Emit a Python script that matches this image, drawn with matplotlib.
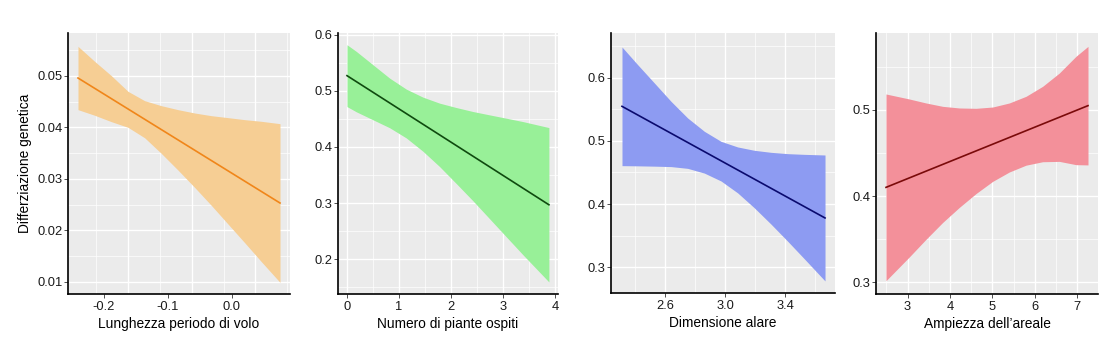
import matplotlib
matplotlib.use("Agg")
import matplotlib.pyplot as plt

plt.rcParams['font.family'] = ['Liberation Sans', 'DejaVu Sans']

W, H = 1106, 359

# ---------------- data ----------------
ylabel = "Differziazione genetica"

# Panel 1: Lunghezza periodo di volo
p1_xlabel = "Lunghezza periodo di volo"
p1_x = [-0.2404, -0.2144, -0.1883, -0.1623, -0.1363, -0.1103, -0.0843,
        -0.0582, -0.0322, -0.0062, 0.0198, 0.0458, 0.0750]
p1_upper = [0.05571, 0.05280, 0.05002, 0.04698, 0.04517, 0.04420, 0.04343,
            0.04278, 0.04226, 0.04188, 0.04149, 0.04117, 0.04071]
p1_lower = [0.04343, 0.04234, 0.04110, 0.04000, 0.03797, 0.03494, 0.03171,
            0.02834, 0.02486, 0.02124, 0.01763, 0.01395, 0.00993]
p1_line_x = [-0.2404, 0.0750]
p1_line_y = [0.04957, 0.02532]
p1_xticks = [-0.2, -0.1, 0.0]
p1_xticklabels = ["-0.2", "-0.1", "0.0"]
p1_yticks = [0.01, 0.02, 0.03, 0.04, 0.05]
p1_yticklabels = ["0.01", "0.02", "0.03", "0.04", "0.05"]
p1_xgrid_major = [-0.163, -0.063, 0.036]
p1_xgrid_minor = [-0.213, -0.113, -0.013, 0.086]

# Panel 2: Numero di piante ospiti
p2_xlabel = "Numero di piante ospiti"
p2_x = [0.0, 0.1795, 0.5, 0.8205, 1.141, 1.4615, 1.782, 2.1026, 2.423,
        2.7436, 3.064, 3.3846, 3.885]
p2_upper = [0.5821, 0.5702, 0.5464, 0.5226, 0.5030, 0.4887, 0.4780, 0.4702,
            0.4631, 0.4571, 0.4512, 0.4452, 0.4345]
p2_lower = [0.4719, 0.4626, 0.4484, 0.4342, 0.4160, 0.3923, 0.3650, 0.3348,
            0.3041, 0.2721, 0.2400, 0.2080, 0.1595]
p2_line_x = [0.0, 3.885]
p2_line_y = [0.527, 0.297]
p2_xticks = [0, 1, 2, 3, 4]
p2_xticklabels = ["0", "1", "2", "3", "4"]
p2_yticks = [0.2, 0.3, 0.4, 0.5, 0.6]
p2_yticklabels = ["0.2", "0.3", "0.4", "0.5", "0.6"]

# Panel 3: Dimensione alare
p3_xlabel = "Dimensione alare"
p3_x = [2.3113, 2.4158, 2.5269, 2.6380, 2.7491, 2.8602, 2.9713, 3.0824,
        3.1935, 3.3046, 3.4157, 3.5268, 3.6645]
p3_upper = [0.6488, 0.6208, 0.5918, 0.5627, 0.5363, 0.5152, 0.4993, 0.4904,
            0.4851, 0.4819, 0.4798, 0.4787, 0.4777]
p3_lower = [0.4608, 0.4605, 0.4600, 0.4593, 0.4565, 0.4490, 0.4365, 0.4176,
            0.3939, 0.3681, 0.3410, 0.3131, 0.2781]
p3_line_x = [2.3113, 3.6645]
p3_line_y = [0.5548, 0.3779]
p3_xticks = [2.6, 3.0, 3.4]
p3_xticklabels = ["2.6", "3.0", "3.4"]
p3_yticks = [0.3, 0.4, 0.5, 0.6]
p3_yticklabels = ["0.3", "0.4", "0.5", "0.6"]

# Panel 4: Ampiezza dell'areale
p4_xlabel = "Ampiezza dell\u2019areale"
p4_x = [2.491, 3.042, 3.435, 3.828, 4.222, 4.615, 5.008, 5.401, 5.795,
        6.188, 6.581, 6.975, 7.258]
p4_upper = [0.5183, 0.5125, 0.5079, 0.5040, 0.5021, 0.5017, 0.5032, 0.5079,
            0.5156, 0.5272, 0.5426, 0.5620, 0.5735]
p4_lower = [0.3019, 0.3295, 0.3499, 0.3694, 0.3869, 0.4029, 0.4170, 0.4279,
            0.4358, 0.4398, 0.4402, 0.4364, 0.4361]
p4_line_x = [2.491, 7.258]
p4_line_y = [0.4101, 0.5048]
p4_xticks = [3, 4, 5, 6, 7]
p4_xticklabels = ["3", "4", "5", "6", "7"]
p4_yticks = [0.3, 0.4, 0.5]
p4_yticklabels = ["0.3", "0.4", "0.5"]

panels = [
    dict(box=(68, 290, 33, 294), xlim=(-0.256, 0.0906), ylim=(0.00767, 0.0583),
         x=p1_x, up=p1_upper, lo=p1_lower, lx=p1_line_x, ly=p1_line_y,
         xt=p1_xticks, xtl=p1_xticklabels, yt=p1_yticks, ytl=p1_yticklabels,
         xlabel=p1_xlabel, fill="#F6CE94", line="#F0861A",
         xgrid=(p1_xgrid_major, p1_xgrid_minor),
         xminor=None, yminor=[0.015, 0.025, 0.035, 0.045, 0.055]),
    dict(box=(338, 558, 33, 294), xlim=(-0.173, 4.06), ylim=(0.138, 0.603),
         x=p2_x, up=p2_upper, lo=p2_lower, lx=p2_line_x, ly=p2_line_y,
         xt=p2_xticks, xtl=p2_xticklabels, yt=p2_yticks, ytl=p2_yticklabels,
         xlabel=p2_xlabel, fill="#98F098", line="#0F4A0F", xgrid=None,
         xminor=[0.5, 1.5, 2.5, 3.5], yminor=[0.15, 0.25, 0.35, 0.45, 0.55]),
    dict(box=(611, 835, 33, 293), xlim=(2.238, 3.731), ylim=(0.259, 0.671),
         x=p3_x, up=p3_upper, lo=p3_lower, lx=p3_line_x, ly=p3_line_y,
         xt=p3_xticks, xtl=p3_xticklabels, yt=p3_yticks, ytl=p3_yticklabels,
         xlabel=p3_xlabel, fill="#8D9BF2", line="#0A0A6E", xgrid=None,
         xminor=[2.4, 2.8, 3.2, 3.6], yminor=[0.35, 0.45, 0.55, 0.65]),
    dict(box=(876, 1098, 33, 294), xlim=(2.255, 7.494), ylim=(0.2865, 0.589),
         x=p4_x, up=p4_upper, lo=p4_lower, lx=p4_line_x, ly=p4_line_y,
         xt=p4_xticks, xtl=p4_xticklabels, yt=p4_yticks, ytl=p4_yticklabels,
         xlabel=p4_xlabel, fill="#F3909A", line="#7A0A0A", xgrid=None,
         xminor=[2.5, 3.5, 4.5, 5.5, 6.5], yminor=[0.35, 0.45, 0.55]),
]

fig = plt.figure(figsize=(W / 100, H / 100), dpi=100)
fig.patch.set_facecolor("white")

for i, p in enumerate(panels):
    l, r, t, b = p["box"]
    ax = fig.add_axes([l / W, 1 - b / H, (r - l) / W, (b - t) / H])
    ax.set_facecolor("#EBEBEB")
    ax.set_xlim(*p["xlim"])
    ax.set_ylim(*p["ylim"])
    # grid
    for yv in p["yt"]:
        ax.axhline(yv, color="white", lw=1.0, zorder=0.5)
    for yv in p["yminor"]:
        ax.axhline(yv, color="white", lw=0.5, zorder=0.5)
    if p["xgrid"] is not None:
        for xv in p["xgrid"][0]:
            ax.axvline(xv, color="white", lw=1.0, zorder=0.5)
        for xv in p["xgrid"][1]:
            ax.axvline(xv, color="white", lw=0.5, zorder=0.5)
    else:
        for xv in p["xt"]:
            ax.axvline(xv, color="white", lw=1.0, zorder=0.5)
        for xv in p["xminor"]:
            ax.axvline(xv, color="white", lw=0.5, zorder=0.5)
    ax.fill_between(p["x"], p["lo"], p["up"], color=p["fill"], lw=0, zorder=2)
    ax.plot(p["lx"], p["ly"], color=p["line"], lw=1.2, zorder=3)
    ax.set_xticks(p["xt"])
    ax.set_xticklabels(p["xtl"])
    ax.set_yticks(p["yt"])
    ax.set_yticklabels(p["ytl"])
    ax.tick_params(axis="both", which="major", length=3, width=0.6,
                   color="#333333", labelcolor="#1a1a1a", labelsize=9.3)
    ax.tick_params(axis="y", pad=0.8)
    ax.tick_params(axis="x", pad=2)
    for s in ["top", "right"]:
        ax.spines[s].set_visible(False)
    for s in ["left", "bottom"]:
        ax.spines[s].set_color("black")
        ax.spines[s].set_linewidth(1.2)
    ax.set_xlabel(p["xlabel"], fontsize=9.9, color="black", labelpad=3)
    if i == 0:
        ax.set_ylabel(ylabel, fontsize=9.9, color="black", labelpad=4)

fig.savefig("out.png", dpi=100)
